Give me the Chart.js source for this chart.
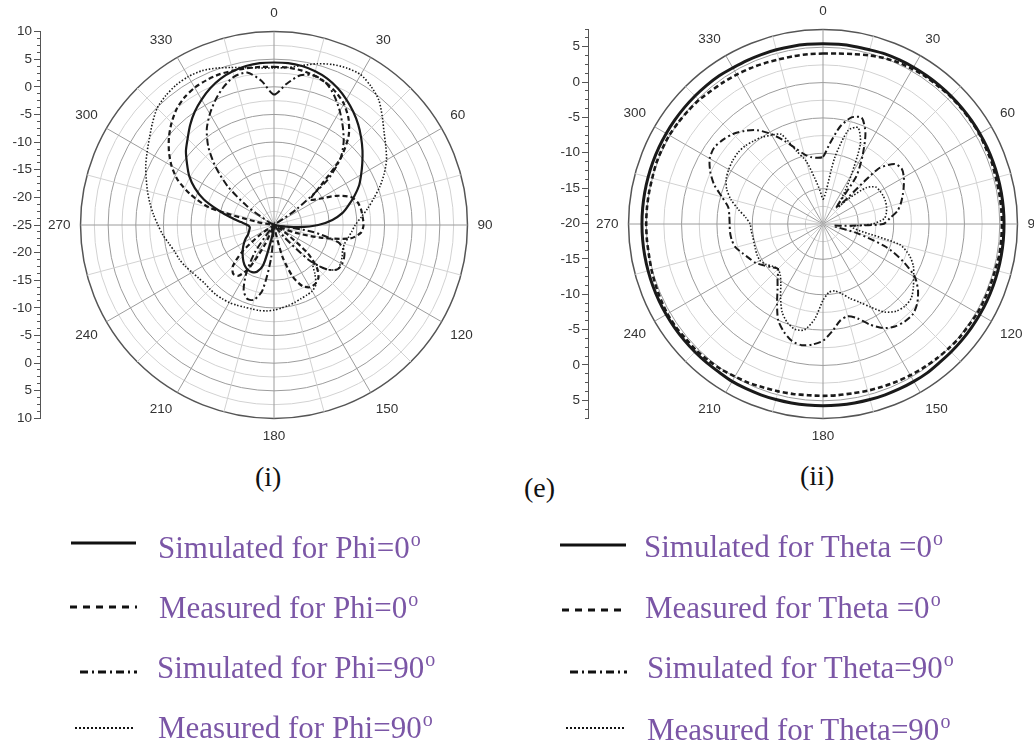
<!DOCTYPE html>
<html>
<head>
<meta charset="utf-8">
<script src="https://cdn.jsdelivr.net/npm/chart.js@4.4.1/dist/chart.umd.min.js"></script>
<style>
  html, body { margin: 0; padding: 0; background: #fff; }
  body { width: 1034px; height: 746px; overflow: hidden; position: relative;
         font-family: "Liberation Serif", "Times New Roman", serif; }
  canvas { position: absolute; }
  .cap { position: absolute; font-size: 28px; line-height: 30px; color: #111; white-space: nowrap; }
  .leg { position: absolute; font-size: 31px; line-height: 30px; color: #7b56a6; white-space: nowrap; }
  .leg .deg { font-size: 20px; position: relative; top: -12px; margin-left: 1px; }
  svg.keys { position: absolute; left: 0; top: 0; }
</style>
</head>
<body>

<canvas id="axisLeft"  width="44"  height="450" style="left:0px;top:0px"></canvas>
<canvas id="polarLeft" width="452" height="452" style="left:45px;top:-1px"></canvas>
<canvas id="axisRight" width="52"  height="450" style="left:540px;top:0px"></canvas>
<canvas id="polarRight" width="454" height="454" style="left:593px;top:-3px"></canvas>

<div class="cap" style="left:255px;top:462px">(i)</div>
<div class="cap" style="left:524px;top:473px">(e)</div>
<div class="cap" style="left:800px;top:461px">(ii)</div>

<svg class="keys" width="1034" height="746">
  <g stroke="#111" fill="none">
    <line x1="71" y1="543" x2="136" y2="543" stroke-width="3"/>
    <line x1="70" y1="607" x2="137" y2="607" stroke-width="3" stroke-dasharray="7 6"/>
    <line x1="80" y1="672" x2="137" y2="672" stroke-width="3" stroke-dasharray="8 4 2 4"/>
    <line x1="75" y1="728" x2="135" y2="728" stroke-width="1.8" stroke-dasharray="2 2"/>
    <line x1="560" y1="545" x2="626" y2="545" stroke-width="3"/>
    <line x1="562" y1="610" x2="627" y2="610" stroke-width="3" stroke-dasharray="7 6"/>
    <line x1="570" y1="672" x2="627" y2="672" stroke-width="3" stroke-dasharray="8 4 2 4"/>
    <line x1="566" y1="728" x2="624" y2="728" stroke-width="1.8" stroke-dasharray="2 2"/>
  </g>
</svg>

<div class="leg" style="left:158px;top:533px">Simulated for Phi=0<span class="deg">o</span></div>
<div class="leg" style="left:159px;top:593px">Measured for Phi=0<span class="deg">o</span></div>
<div class="leg" style="left:157px;top:653px">Simulated for Phi=90<span class="deg">o</span></div>
<div class="leg" style="left:158px;top:713px">Measured for Phi=90<span class="deg">o</span></div>
<div class="leg" style="left:644px;top:532px">Simulated for Theta =0<span class="deg">o</span></div>
<div class="leg" style="left:645px;top:593px">Measured for Theta =0<span class="deg">o</span></div>
<div class="leg" style="left:647px;top:653px">Simulated for Theta=90<span class="deg">o</span></div>
<div class="leg" style="left:647px;top:715px">Measured for Theta=90<span class="deg">o</span></div>

<script>
// Angular categories: one every 5 degrees, clockwise from the top.
const angleLabels = [];
for (let a = 0; a < 360; a += 5) angleLabels.push(String(a));

// Gain (dB) at 0, 5, 10 ... 355 degrees.
// Panel (i): Phi cuts.
const simPhi0 = [
  4.4, 4.4, 4.2, 3.8, 3.2, 2.3, 1.2, 0.0, -1.3, -2.7, -4.1, -5.5,
  -6.8, -8.0, -9.5, -11.0, -12.4, -14.4, -17.0, -20.5, -23.5, -25, -25, -25,
  -25, -25, -25, -25, -25, -25, -25, -25, -25, -25, -25, -25,
  -25, -25, -22.5, -17.5, -16.0, -15.6, -15.6, -15.9, -16.4, -17.0, -17.6, -18.2,
  -18.8, -19.4, -20.0, -20.3, -20.5, -20.6, -20.2, -19.0, -17.0, -14.5, -11.5, -9.2,
  -7.3, -5.8, -4.2, -2.9, -1.4, 0.0, 1.2, 2.3, 3.2, 3.8, 4.2, 4.4
];
const measPhi0 = [
  3.6, 3.6, 3.4, 3.0, 2.4, 1.5, 0.3, -1.5, -4.0, -8.0, -14, -17,
  -15.5, -12.5, -10.2, -9.3, -9.0, -8.9, -8.8, -9.2, -11, -16, -21, -25,
  -25, -22, -17, -14, -12.5, -12, -12, -12.8, -15, -19, -24, -25,
  -25, -25, -25, -25, -25, -21, -16, -13.8, -13.5, -14.5, -17.5, -22,
  -25, -25, -25, -25, -25, -25, -25, -25, -22, -13, -9, -5.8,
  -3.6, -1.8, -0.2, 1.2, 2.4, 3.2, 3.7, 3.9, 4.0, 3.9, 3.8, 3.7
];
const simPhi90 = [
  -1.4, 0.6, 2.5, 3.0, 2.4, 0.8, -1.2, -3.3, -5.4, -8.0, -12.5, -20,
  -25, -25, -25, -25, -25, -25, -25, -25, -18, -13, -11.5, -11.0,
  -10.8, -11.0, -12.5, -16, -22, -25, -25, -25, -25, -25, -25, -25,
  -25, -19, -13, -11, -10.8, -12, -15, -19, -24, -25, -25, -25,
  -25, -25, -25, -25, -25, -25, -25, -25, -25, -25, -25, -25,
  -24, -19, -14, -10, -6.5, -3.8, -1.8, 0.0, 1.6, 2.8, 3.0, 1.2
];
const measPhi90 = [
  3.4, 3.6, 4.3, 5.2, 5.9, 6.3, 6.4, 5.6, 4.5, 2.7, 1.0, -0.3,
  -1.5, -3.0, -4.6, -6.3, -7.8, -9.2, -10.3, -10.9, -11.4, -11.8, -11.8, -11.4,
  -11.1, -11.0, -12.5, -15, -13.5, -11.8, -11.2, -11.0, -10.8, -10.5, -10.2, -9.9,
  -9.6, -9.4, -9.3, -9.3, -9.2, -9.0, -8.8, -8.7, -8.6, -8.6, -8.6, -8.3,
  -7.9, -7.3, -6.8, -6.4, -5.7, -4.8, -4.0, -3.1, -2.2, -1.3, -0.4, 0.6,
  1.5, 2.5, 3.7, 4.9, 5.5, 5.9, 6.0, 5.8, 5.2, 4.5, 3.9, 3.5
];

// Panel (ii): Theta cuts.
const simTheta0 = [
  5.5, 5.5, 5.5, 5.5, 5.6, 5.6, 5.6, 5.6, 5.6, 5.6, 5.6, 5.6,
  5.6, 5.6, 5.6, 5.6, 5.6, 5.6, 5.6, 5.6, 5.6, 5.6, 5.6, 5.6,
  5.6, 5.6, 5.6, 5.6, 5.6, 5.7, 5.7, 5.7, 5.7, 5.7, 5.7, 5.7,
  5.7, 5.7, 5.7, 5.7, 5.7, 5.7, 5.7, 5.6, 5.6, 5.6, 5.6, 5.6,
  5.6, 5.6, 5.6, 5.6, 5.6, 5.6, 5.6, 5.6, 5.6, 5.6, 5.6, 5.6,
  5.6, 5.6, 5.6, 5.6, 5.6, 5.6, 5.5, 5.5, 5.5, 5.5, 5.5, 5.5
];
const measTheta0 = [
  4.1, 4.2, 4.4, 4.7, 5.0, 5.2, 5.3, 5.4, 5.4, 5.5, 5.5, 5.5,
  5.5, 5.4, 5.4, 5.3, 5.3, 5.3, 5.3, 5.3, 5.3, 5.2, 5.2, 5.2,
  5.2, 5.1, 5.1, 5.0, 4.9, 4.8, 4.7, 4.6, 4.5, 4.4, 4.3, 4.3,
  4.3, 4.3, 4.4, 4.5, 4.6, 4.8, 4.9, 5.1, 5.2, 5.3, 5.3, 5.4,
  5.4, 5.3, 5.2, 5.1, 5.0, 5.0, 5.0, 5.0, 5.0, 5.0, 5.1, 5.1,
  5.1, 5.0, 4.9, 4.8, 4.6, 4.5, 4.4, 4.3, 4.2, 4.1, 4.1, 4.1
];
const simTheta90 = [
  -10.5, -8.5, -6.0, -4.4, -4.0, -5.8, -8.8, -11.8, -17, -9.0, -6.8, -6.4,
  -6.8, -7.4, -8.0, -8.6, -9.3, -10.5, -11.5, -17, -18.5, -15, -10.5, -7.5,
  -5.0, -3.6, -2.6, -2.0, -2.0, -2.3, -3.0, -4.3, -5.8, -6.5, -6.1, -4.8,
  -3.5, -2.9, -2.6, -2.9, -3.8, -5.0, -7.0, -8.8, -10, -11, -10.5, -9.8,
  -9.0, -8.5, -7.9, -7.2, -6.9, -6.8, -6.8, -6.7, -6.4, -5.2, -3.6, -2.4,
  -1.5, -1.2, -1.5, -2.0, -2.8, -3.8, -5.3, -7.0, -8.6, -9.8, -10.4, -10.6
];
const measTheta90 = [
  -16.5, -15.5, -10.5, -6.3, -5.5, -7.5, -12, -15, -17, -15, -12, -10.9,
  -10.7, -10.6, -10.6, -10.7, -10.9, -11.3, -13, -16, -15, -8.8, -7.0, -5.9,
  -5.2, -4.4, -3.7, -3.6, -3.9, -4.8, -6.4, -7.8, -8.8, -9.8, -10.4, -10.3,
  -9.2, -6.5, -4.8, -4.6, -5.2, -6.3, -8.0, -9.6, -10.6, -11.0, -10.7, -10.1,
  -9.7, -9.7, -9.8, -9.9, -9.9, -9.8, -9.7, -9.0, -7.8, -6.5, -5.5, -4.9,
  -4.6, -4.4, -4.3, -4.4, -4.7, -5.0, -5.5, -6.0, -9.0, -10.8, -13.5, -15.3
];

const INK = '#1a1a1a';
const GRID_MAJOR = '#9c9c9c';
const GRID_MINOR = '#d2d2d2';
const GRID_OUTER = '#555555';
const LABEL_FONT = { family: 'Liberation Sans', size: 13.5 };

// Line styles shared by both panels: simulated/measured, co-/cross-cut.
const styles = {
  sim0:  { borderDash: [],           borderWidth: 2.2 },
  meas0: { borderDash: [5, 3],        borderWidth: 2.2 },
  sim90: { borderDash: [7, 3, 2, 3],  borderWidth: 2.0 },
  meas90:{ borderDash: [1.5, 1.8],    borderWidth: 1.6 }
};

function polarPanel(id, rMin, rMax, sets) {
  return new Chart(document.getElementById(id), {
    type: 'radar',
    data: {
      labels: angleLabels,
      datasets: sets.map(s => Object.assign({
        label: s.label,
        data: s.data,
        borderColor: INK,
        fill: false,
        pointRadius: 0,
        pointHoverRadius: 0,
        tension: 0.25
      }, styles[s.style], s.extra || {}))
    },
    options: {
      responsive: false,
      animation: false,
      devicePixelRatio: 1,
      layout: { padding: 0 },
      plugins: { legend: { display: false }, tooltip: { enabled: false } },
      scales: {
        r: {
          min: rMin,
          max: rMax,
          startAngle: 0,
          beginAtZero: false,
          ticks: { display: false, stepSize: 2.5 },
          grid: {
            circular: true,
            color: c => c.tick.value === rMax ? GRID_OUTER
                      : (c.tick.value % 5 === 0 ? GRID_MAJOR : GRID_MINOR),
            lineWidth: c => c.tick.value === rMax ? 1.5 : 1
          },
          angleLines: {
            color: c => c.index % 6 === 0 ? GRID_MAJOR : (c.index % 3 === 0 ? GRID_MINOR : null),
            lineWidth: c => (c.index % 3 === 0 ? 1 : 0)
          },
          pointLabels: {
            padding: 10,
            color: '#333',
            font: LABEL_FONT,
            callback: (label, i) => (i % 6 === 0 ? label : '')
          }
        }
      }
    }
  });
}

// Vertical dB rulers: centre value at the middle, rising both ways.
function dbRuler(id, half, centreDb, axisWidth, padTop, padBottom) {
  return new Chart(document.getElementById(id), {
    type: 'scatter',
    data: { datasets: [] },
    options: {
      responsive: false,
      animation: false,
      devicePixelRatio: 1,
      layout: { padding: { top: padTop, bottom: padBottom, left: 0, right: 0 } },
      plugins: { legend: { display: false }, tooltip: { enabled: false } },
      scales: {
        x: { display: false, min: 0, max: 1 },
        y: {
          position: 'left',
          min: -half,
          max: half,
          afterFit: s => { s.width = axisWidth; },
          ticks: {
            stepSize: 1.25,
            autoSkip: false,
            padding: 2,
            color: '#333',
            font: LABEL_FONT,
            callback: v => (Math.abs(v) % 5 === 0 ? String(Math.abs(v) + centreDb) : '')
          },
          grid: {
            drawOnChartArea: false,
            drawTicks: true,
            tickLength: 6,
            tickColor: '#555',
            tickWidth: 1,
            tickBorderDash: c => (c.tick && Math.abs(c.tick.value) % 5 === 0 ? [] : [0, 3, 3, 0])
          },
          border: { display: true, color: '#555', width: 1 }
        }
      }
    }
  });
}

polarPanel('polarLeft', -25, 10, [
  { label: 'Simulated for Phi=0',  data: simPhi0,   style: 'sim0' },
  { label: 'Measured for Phi=0',   data: measPhi0,  style: 'meas0' },
  { label: 'Simulated for Phi=90', data: simPhi90,  style: 'sim90' },
  { label: 'Measured for Phi=90',  data: measPhi90, style: 'meas90' }
]);

polarPanel('polarRight', -20, 7.5, [
  { label: 'Simulated for Theta=0',  data: simTheta0,   style: 'sim0', extra: { borderWidth: 3 } },
  { label: 'Measured for Theta=0',   data: measTheta0,  style: 'meas0', extra: { borderWidth: 2.6 } },
  { label: 'Simulated for Theta=90', data: simTheta90,  style: 'sim90' },
  { label: 'Measured for Theta=90',  data: measTheta90, style: 'meas90' }
]);

dbRuler('axisLeft', 35, -25, 40, 31.7, 31.7);
dbRuler('axisRight', 27.5, -20, 48, 29, 32);
</script>
</body>
</html>
